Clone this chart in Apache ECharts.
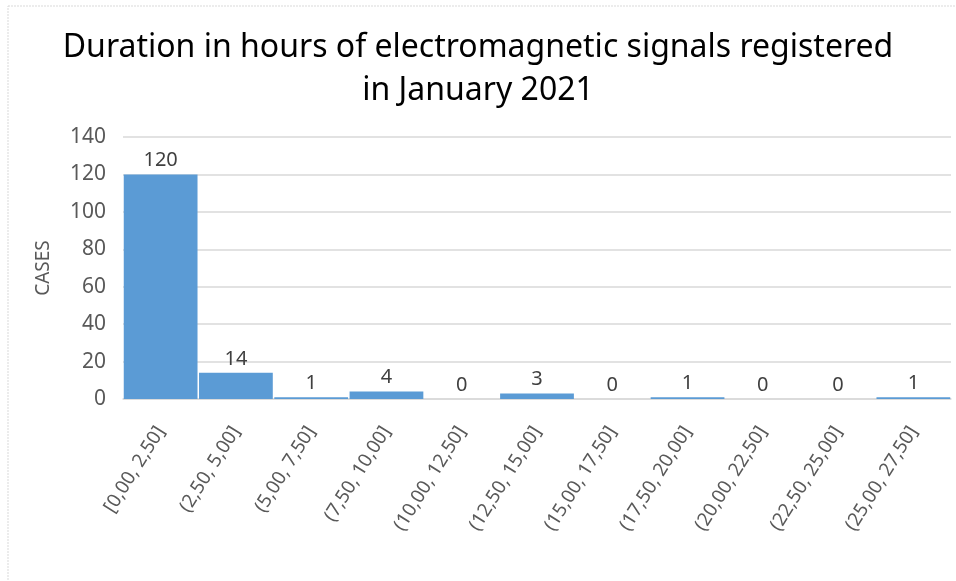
<!DOCTYPE html>
<html>
<head>
<meta charset="utf-8">
<script src="https://cdn.jsdelivr.net/npm/echarts@6/dist/echarts.min.js"></script>
<style>html,body{margin:0;padding:0;background:#fff;}#c{width:956px;height:581px;}</style>
</head>
<body>
<div id="c"></div>
<script>
var titleLines = ["Duration in hours of electromagnetic signals registered", "in January 2021"];
var categories = ["[0,00, 2,50]", "(2,50, 5,00]", "(5,00, 7,50]", "(7,50, 10,00]", "(10,00, 12,50]", "(12,50, 15,00]", "(15,00, 17,50]", "(17,50, 20,00]", "(20,00, 22,50]", "(22,50, 25,00]", "(25,00, 27,50]"];
var cases = [120, 14, 1, 4, 0, 3, 0, 1, 0, 0, 1];
var yTicks = {min: 0, max: 140, interval: 20};
var yName = "CASES";

var chart = echarts.init(document.getElementById('c'), null, {renderer: 'canvas'});
chart.setOption({
  backgroundColor: '#fff',
  animation: false,
  graphic: [{
    type: 'rect', shape: {x: 8, y: 6, width: 960, height: 590},
    style: {fill: 'none', stroke: '#d9d9d9', lineWidth: 1, lineDash: [2, 1]}
  }],
  title: {
    text: titleLines.join('\n'),
    left: 'center', top: 21,
    textStyle: {fontFamily: 'Noto Sans', fontSize: 32, fontWeight: 'normal', color: '#000', lineHeight: 43}
  },
  grid: {left: 123, right: 5, top: 137, bottom: 182},
  xAxis: {
    type: 'category', data: categories,
    axisLine: {show: true, lineStyle: {color: '#d9d9d9', width: 1.5}},
    axisTick: {show: false},
    axisLabel: {rotate: 58, margin: 29, fontFamily: 'Noto Sans', fontSize: 19, color: '#595959', interval: 0}
  },
  yAxis: {
    type: 'value', min: yTicks.min, max: yTicks.max, interval: yTicks.interval,
    name: yName, nameLocation: 'middle', nameGap: 70, nameRotate: 90,
    nameTextStyle: {fontFamily: 'Noto Sans', fontSize: 19, color: '#595959'},
    axisLine: {show: false}, axisTick: {show: false},
    axisLabel: {fontFamily: 'Noto Sans', fontSize: 21, color: '#595959', margin: 17},
    splitLine: {lineStyle: {color: '#d9d9d9', width: 1.5}}
  },
  series: [{
    type: 'bar', data: cases,
    barCategoryGap: '2%',
    itemStyle: {color: '#5b9bd5'},
    label: {show: true, position: 'top', distance: 4, fontFamily: 'Noto Sans', fontSize: 20, color: '#404040'}
  }]
});
</script>
</body>
</html>
